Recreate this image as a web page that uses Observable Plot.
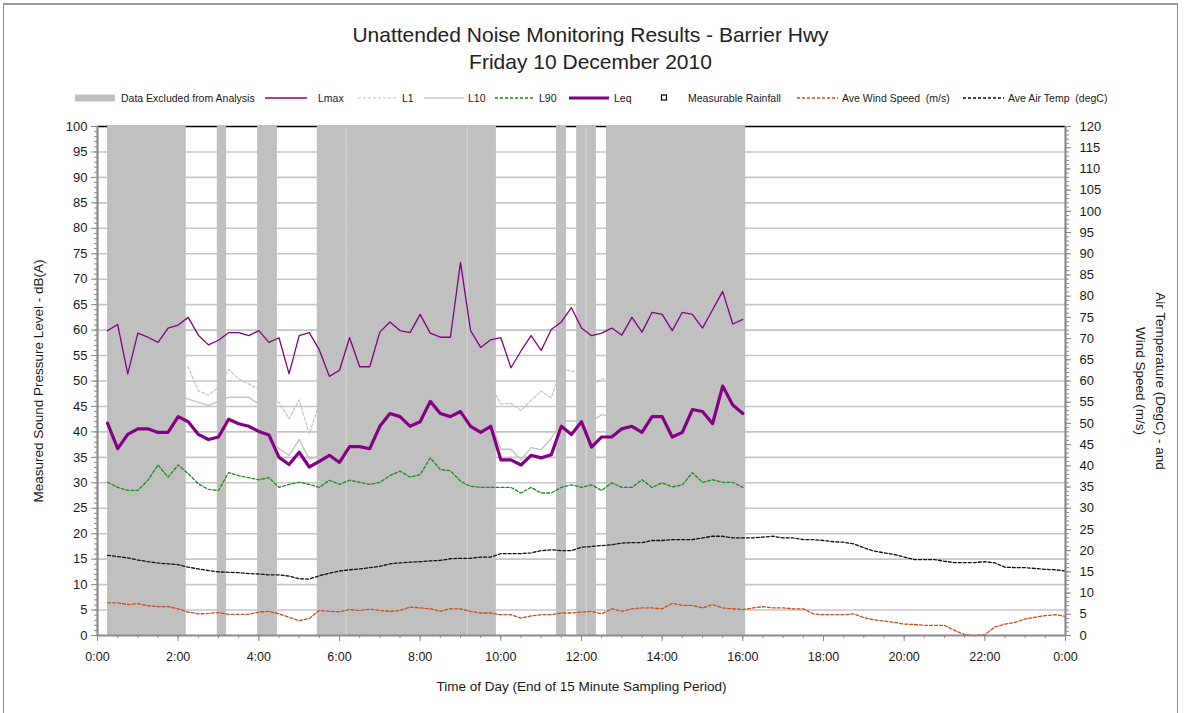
<!DOCTYPE html>
<html><head><meta charset="utf-8">
<script src="https://cdn.jsdelivr.net/npm/d3@7"></script>
<script src="https://cdn.jsdelivr.net/npm/@observablehq/plot@0.6"></script>
<style>
body{margin:0;background:#fff;font-family:"Liberation Sans",Arial,sans-serif;}
#wrap{position:relative;width:1187px;height:713px;overflow:hidden;background:#fff;}
#frame{position:absolute;left:3px;top:3px;width:1173px;height:730px;border:1px solid #8c8c8c;border-top:2px solid #9a9a9a;}
#title{position:absolute;left:0;top:21px;width:1181px;text-align:center;font-size:21px;line-height:27px;color:#222;}
#legend{position:absolute;left:0;top:0;}
#chart{position:absolute;left:0;top:110px;}
</style></head>
<body>
<div id="wrap">
  <div id="frame"></div>
  <div id="title">Unattended Noise Monitoring Results - Barrier Hwy<br>Friday 10 December 2010</div>
  <svg id="legend" width="1187" height="110"></svg>
  <div id="chart"></div>
</div>
<script>
// ---- data (decimal hours; noise = end of 15-minute periods 0:15 .. 16:00) ----
const noiseTimes = d3.range(1, 65).map(i => i / 4);
const weatherTimes = d3.range(1, 97).map(i => i / 4);

const lmax = [59.9,61.1,51.4,59.4,58.6,57.6,60.4,61.0,62.5,59.0,
              57.1,58.0,59.5,59.5,58.9,59.9,57.6,58.5,51.4,58.9,
              59.5,56.1,50.9,52.1,58.5,52.8,52.8,59.6,61.6,59.9,
              59.5,63.1,59.4,58.6,58.6,73.3,59.9,56.6,58.1,58.5,
              52.6,55.9,58.9,56.0,60.1,61.6,64.4,60.4,58.9,59.4,
              60.4,59.0,62.5,59.6,63.5,63.1,59.9,63.5,63.1,60.4,
              64.0,67.6,61.2,62.1];
const leq = [41.7,36.7,39.5,40.6,40.6,39.9,39.9,43.0,42.0,39.5,
             38.5,39.0,42.5,41.6,41.1,40.1,39.4,35.0,33.6,36.0,
             33.1,34.2,35.4,34.0,37.1,37.1,36.7,41.1,43.6,43.0,
             41.1,42.0,46.0,43.6,43.0,44.0,41.1,39.9,41.1,34.5,
             34.5,33.5,35.4,34.9,35.5,41.1,39.5,42.0,37.0,39.0,
             39.0,40.6,41.1,39.9,43.0,43.0,39.0,39.9,44.4,44.0,
             41.6,49.0,45.3,43.6];
const l90 = [30.1,29.1,28.5,28.5,30.5,33.5,31.1,33.5,31.8,29.8,
             28.7,28.5,32.0,31.4,31.0,30.6,31.0,29.1,29.7,30.1,
             29.7,29.1,30.5,29.7,30.5,30.1,29.7,30.1,31.4,32.3,
             31.1,31.6,34.9,32.6,32.4,30.3,29.3,29.1,29.1,29.1,
             29.1,28.0,29.1,28.0,28.0,29.1,29.6,29.1,29.6,28.5,
             30.0,29.1,29.1,30.6,29.1,30.0,29.2,29.6,32.0,30.1,
             30.6,30.1,30.1,29.1];
// L1 / L10 only readable outside the excluded bands (null = not visible)
const l1 = [null,null,null,null,null,null,null,53.5,52.7,48.1,
            47.2,48.8,52.3,50.4,49.4,48.4,47.0,45.8,42.6,46.3,
            39.6,45.5,null,null,null,null,null,null,null,null,
            null,null,null,null,null,null,null,null,49.0,45.5,
            45.6,44.2,46.2,48.0,46.7,52.5,51.9,52.0,49.0,50.4,
            50.5,null,null,null,null,null,null,null,null,null,
            null,null,null,null];
const l10 = [null,null,null,null,null,null,null,46.7,46.5,45.8,
             45.2,46.0,46.8,46.8,46.8,45.5,39.0,36.7,35.4,38.5,
             34.7,35.2,null,null,null,null,null,null,null,null,
             null,null,null,null,null,null,null,null,42.0,36.6,
             36.6,34.5,36.9,36.5,38.7,42.0,42.2,42.0,42.0,43.4,
             43.0,null,null,null,null,null,null,null,null,null,
             null,null,null,null];
const airTemp = [18.9,18.6,18.3,17.8,17.4,17.1,16.9,16.7,16.1,15.7,
                 15.3,15.0,14.9,14.8,14.6,14.5,14.3,14.3,14.0,13.4,
                 13.3,14.1,14.7,15.2,15.5,15.7,16.0,16.3,16.9,17.1,
                 17.3,17.4,17.6,17.7,18.1,18.2,18.2,18.5,18.5,19.3,
                 19.3,19.3,19.5,20.0,20.2,20.0,20.0,20.8,21.0,21.2,
                 21.4,21.8,21.9,21.9,22.4,22.4,22.6,22.6,22.6,23.0,
                 23.4,23.4,23.0,23.0,23.0,23.2,23.4,23.0,23.0,22.6,
                 22.6,22.4,22.1,22.0,21.6,20.7,19.9,19.5,19.1,18.5,
                 17.9,17.9,17.9,17.5,17.2,17.2,17.2,17.4,17.1,16.1,
                 16.0,16.0,15.8,15.6,15.5,15.2];
const windSpeed = [7.7,7.7,7.3,7.5,7.0,6.8,6.8,6.3,5.5,5.1,
                   5.2,5.4,5.0,5.0,5.0,5.5,5.7,5.1,4.3,3.5,
                   4.0,5.9,5.7,5.6,6.1,5.9,6.2,5.9,5.7,5.9,
                   6.7,6.5,6.3,5.7,6.3,6.3,5.7,5.3,5.3,4.9,
                   4.9,4.1,4.6,4.9,4.9,5.3,5.3,5.5,5.7,5.1,
                   6.3,5.7,6.3,6.5,6.5,6.3,7.6,7.1,7.1,6.5,
                   7.3,6.5,6.3,6.1,6.5,6.8,6.5,6.5,6.3,6.3,
                   5.1,4.9,4.9,4.9,5.1,4.2,3.7,3.4,3.1,2.7,
                   2.6,2.4,2.4,2.4,1.2,0.2,0.0,0.2,2.0,2.7,
                   3.1,3.9,4.3,4.7,4.9,4.5];
// excluded-data bands (decimal hours)
const bandStart = [0.25, 2.97, 3.97, 5.45, 6.17, 9.17, 11.38, 11.88, 12.12, 12.62];
const bandEnd   = [2.20, 3.20, 4.46, 6.17, 9.17, 9.89, 11.63, 12.12, 12.37, 16.07];
const xTickHours = [0,2,4,6,8,10,12,14,16,18,20,22,24];
const leftTicks = [0,5,10,15,20,25,30,35,40,45,50,55,60,65,70,75,80,85,90,95,100];
const rightTicks = [0,5,10,15,20,25,30,35,40,45,50,55,60,65,70,75,80,85,90,95,100,105,110,115,120];
const legendLabels = ["Data Excluded from Analysis","Lmax","L1","L10","L90","Leq","Measurable Rainfall","Ave Wind Speed  (m/s)","Ave Air Temp  (degC)"];

// ---- build tables ----
const noise = noiseTimes.map((t, k) => ({t, lmax: lmax[k], leq: leq[k], l90: l90[k], l1: l1[k], l10: l10[k]}));
const weather = weatherTimes.map((t, k) => ({t, temp: airTemp[k], wind: windSpeed[k]}));
const bands = bandStart.map((s, k) => ({start: s, end: bandEnd[k]}));
const seams = bandEnd.filter(e => bandStart.includes(e));
const R = 1.2; // right axis (0-120) over left axis (0-100)

const PURPLE = "#850085", GREEN = "#1a8f1a", WIND = "#c8501e", GRIDC = "#c6c6c6", BAND = "#c0c0c0", AXC = "#8a8a8a";

const chart = Plot.plot({
  width: 1187, height: 603,
  marginLeft: 97, marginRight: 122, marginTop: 16, marginBottom: 78,
  style: {fontFamily: "'Liberation Sans', Arial, sans-serif", fontSize: "13px", color: "#1a1a1a", background: "transparent", overflow: "visible"},
  x: {domain: [0, 24], axis: null},
  y: {domain: [0, 100], axis: null},
  marks: [
    Plot.ruleY(leftTicks.filter(v => v > 0 && v < 100), {stroke: GRIDC, strokeWidth: 1.6}),
    Plot.ruleY([100], {stroke: "#000", strokeWidth: 1.6}),
    Plot.line(noise, {x: "t", y: "l1", stroke: "#c4c4c4", strokeWidth: 1.2, strokeDasharray: "3,2"}),
    Plot.line(noise, {x: "t", y: "l10", stroke: "#c4c4c4", strokeWidth: 1.4}),
    Plot.rect(bands, {x1: "start", x2: "end", y1: () => 0, y2: () => 100, fill: BAND}),
    Plot.ruleX(seams, {y1: 0, y2: 100, stroke: "#d4d4d4", strokeWidth: 1}),
    Plot.line(noise, {x: "t", y: "lmax", stroke: PURPLE, strokeWidth: 1.3}),
    Plot.line(noise, {x: "t", y: "l90", stroke: GREEN, strokeWidth: 1.3, strokeDasharray: "3,2"}),
    Plot.line(noise, {x: "t", y: "leq", stroke: PURPLE, strokeWidth: 3.2}),
    Plot.line(weather, {x: "t", y: d => d.wind / R, stroke: WIND, strokeWidth: 1.3, strokeDasharray: "3,2"}),
    Plot.line(weather, {x: "t", y: d => d.temp / R, stroke: "#111", strokeWidth: 1.3, strokeDasharray: "3,2"}),
    // axis lines
    Plot.ruleX([0], {stroke: AXC, strokeWidth: 2.2}),
    Plot.ruleX([24], {stroke: AXC, strokeWidth: 2.2}),
    Plot.ruleY([0], {stroke: AXC, strokeWidth: 2.2}),
    // left axis
    Plot.axisY({anchor: "left", ticks: d3.range(0, 101, 1), tickSize: 3, text: null, stroke: AXC}),
    Plot.axisY({anchor: "left", ticks: leftTicks, tickSize: 6, tickPadding: 4, stroke: AXC, fill: "#1a1a1a", fontSize: 13, label: null}),
    // right axis
    Plot.axisY({anchor: "right", ticks: d3.range(0, 121, 1).map(v => v / R), tickSize: 3, text: null, stroke: AXC}),
    Plot.axisY({anchor: "right", ticks: rightTicks.map(v => v / R), tickFormat: d => Math.round(d * R), tickSize: 5, tickPadding: 9, stroke: AXC, fill: "#1a1a1a", fontSize: 13, label: null}),
    // x axis
    Plot.axisX({ticks: d3.range(0, 24.01, 0.5), tickSize: 3, text: null, stroke: AXC}),
    Plot.axisX({ticks: xTickHours, tickFormat: d => `${d % 24}:00`, tickSize: 6, tickPadding: 11, stroke: AXC, fill: "#1a1a1a", fontSize: 12.5, label: null}),
    // axis titles
    Plot.text(["Measured Sound Pressure Level - dB(A)"], {frameAnchor: "left", textAnchor: "middle", dx: -59, rotate: -90, fontSize: 13.5, fill: "#1a1a1a"}),
    Plot.text(["Air Temperature (DegC) - and\nWind Speed (m/s)"], {frameAnchor: "right", textAnchor: "middle", dx: 87, rotate: 90, fontSize: 13.5, lineHeight: 1.5, fill: "#1a1a1a"}),
    Plot.text(["Time of Day (End of 15 Minute Sampling Period)"], {frameAnchor: "bottom", dy: 55, fontSize: 13.5, fill: "#1a1a1a"})
  ]
});
document.getElementById("chart").appendChild(chart);

// ---- legend ----
const lg = d3.select("#legend");
const LY = 98;
const items = [
  {x: 75, w: 40, tx: 121, draw: g => g.append("rect").attr("x", 75).attr("y", LY - 3.5).attr("width", 40).attr("height", 7).attr("fill", BAND)},
  {x: 265, w: 42, tx: 318, stroke: PURPLE, sw: 1.3},
  {x: 358, w: 40, tx: 402, stroke: "#c4c4c4", sw: 1.2, dash: "3,2"},
  {x: 424, w: 40, tx: 468, stroke: "#c4c4c4", sw: 1.4},
  {x: 495, w: 40, tx: 539, stroke: GREEN, sw: 1.3, dash: "3,2"},
  {x: 569, w: 40, tx: 614, stroke: PURPLE, sw: 3.2},
  {x: 662, w: 0, tx: 688, draw: g => g.append("rect").attr("x", 661.5).attr("y", LY - 3).attr("width", 5).attr("height", 5).attr("fill", "#fff").attr("stroke", "#000").attr("stroke-width", 1.2)},
  {x: 797, w: 41, tx: 842, stroke: WIND, sw: 1.3, dash: "3,2"},
  {x: 963, w: 41, tx: 1008, stroke: "#111", sw: 1.3, dash: "3,2"}
];
items.forEach((it, k) => {
  if (it.draw) it.draw(lg);
  else lg.append("line").attr("x1", it.x).attr("x2", it.x + it.w).attr("y1", LY).attr("y2", LY)
        .attr("stroke", it.stroke).attr("stroke-width", it.sw).attr("stroke-dasharray", it.dash || null);
  lg.append("text").attr("x", it.tx).attr("y", LY).attr("dy", "0.35em")
    .attr("font-size", 10.5).attr("font-family", "'Liberation Sans', Arial, sans-serif").attr("fill", "#1a1a1a")
    .attr("xml:space", "preserve").style("white-space", "pre").text(legendLabels[k]);
});
</script>
</body></html>
